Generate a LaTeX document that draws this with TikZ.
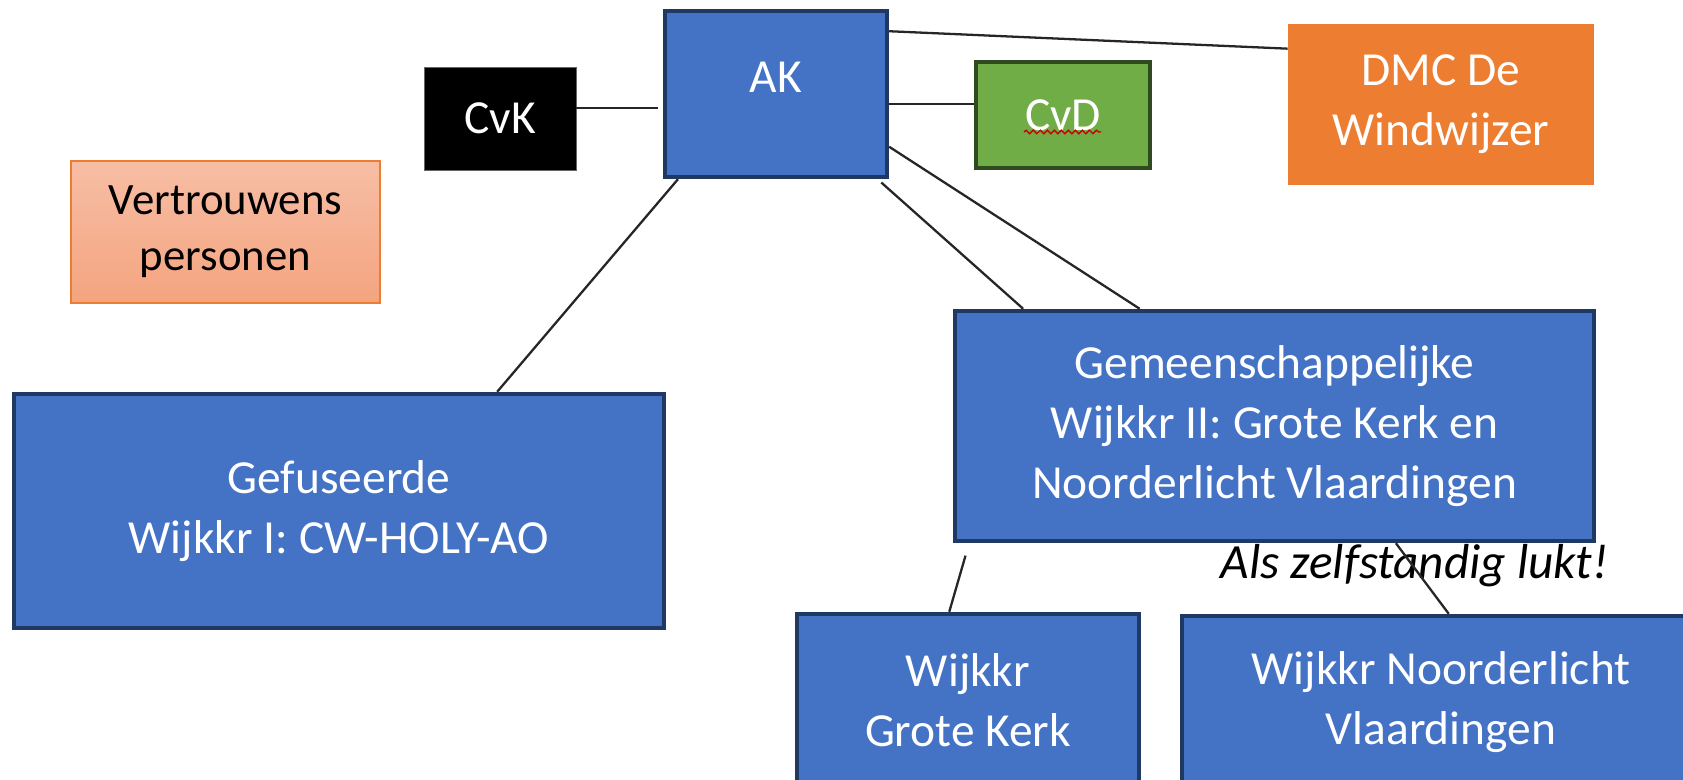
\documentclass[tikz,border=0pt]{standalone}
\usepackage{fontspec}
\setmainfont{Carlito}
\usetikzlibrary{positioning, decorations.pathmorphing}
\definecolor{boxblue}{HTML}{4472C4}
\definecolor{boxedge}{HTML}{1F3864}
\definecolor{dmcorange}{HTML}{ED7D31}
\definecolor{cvdgreen}{HTML}{70AD47}
\definecolor{cvdedge}{HTML}{2E4A1E}
\definecolor{vptop}{HTML}{F7BEA5}
\definecolor{vpbottom}{HTML}{F4A47F}

\begin{document}
\begin{tikzpicture}[
      box/.style={draw=boxedge, line width=2.5pt, fill=boxblue, text=white, align=center, inner sep=0pt},
      link/.style={draw=black!85, line width=1.3pt},
      font=\fontsize{27}{34}\selectfont
    ]
    \clip (0,0) rectangle (33.66,15.6);

    % Nodes
    \node[box, minimum width=4.44cm, minimum height=3.32cm,
      label={[text=white, yshift=0.34cm]center:AK}] (ak) at (15.52,13.72) {};
    \node[fill=black, draw=black!60, line width=0.5pt, text=white,
      minimum width=3.04cm, minimum height=2.06cm] (cvk) at (10.0,13.23) {CvK};
    \node[fill=cvdgreen, draw=cvdedge, line width=2.5pt, text=white,
      minimum width=3.48cm, minimum height=2.12cm] (cvd) at (21.26,13.30) {CvD};
    \node[fill=dmcorange, text=white, align=center,
      minimum width=6.12cm, minimum height=3.22cm] (dmc) at (28.82,13.51) {DMC De\\Windwijzer};
    \node[top color=vptop, bottom color=vpbottom, draw=dmcorange, line width=0.8pt, align=center,
      font=\fontsize{25.5}{32}\selectfont,
      minimum width=6.18cm, minimum height=2.84cm] (vp) at (4.51,10.96) {Vertrouwens\\personen};
    \node[box, minimum width=13.0cm, minimum height=4.68cm] (gef) at (6.78,5.38)
      {Gefuseerde\\Wijkkr I: CW-HOLY-AO};
    \node[box, minimum width=12.78cm, minimum height=4.60cm] (gem) at (25.49,7.08)
      {Gemeenschappelijke\\Wijkkr II: Grote Kerk en\\Noorderlicht Vlaardingen};
    \node[box, minimum width=6.84cm, minimum height=3.44cm] (gk) at (19.36,1.6)
      {Wijkkr\\Grote Kerk};
    \node[box, minimum width=10.36cm, minimum height=3.44cm] (nl) at (28.82,1.56)
      {Wijkkr Noorderlicht\\Vlaardingen};
    \node[font=\fontsize{28}{34}\selectfont\itshape] (note) at (28.29,4.28) {Als zelfstandig lukt!};

    % spell-check wave under CvD
    \draw[red!80!black, line width=0.8pt, decorate,
      decoration={snake, amplitude=1pt, segment length=4pt}]
      ([xshift=-0.78cm, yshift=-0.34cm]cvd.center) -- ++(1.54,0);

    % Links
    \draw[link, shorten >=0.1cm] ([yshift=0.21cm]cvk.east) -- ([yshift=0.21cm]cvk.east -| ak.west);
    \draw[link] (ak.-5) -- (ak.-5 -| cvd.west);
    \draw[link] (ak.29) -- (dmc.160);
    \draw[link] (ak.221) -- (gef.37);
    \draw[link, shorten <=0.1cm] (ak.-40) -- (gem.155);
    \draw[link] (ak.-25.5) -- (gem.139);
    \draw[link, shorten <=0.26cm] (gem.201.4) -- (gk.102);
    \draw[link] (gem.-44) -- (nl.85);

  \end{tikzpicture}
\end{document}
